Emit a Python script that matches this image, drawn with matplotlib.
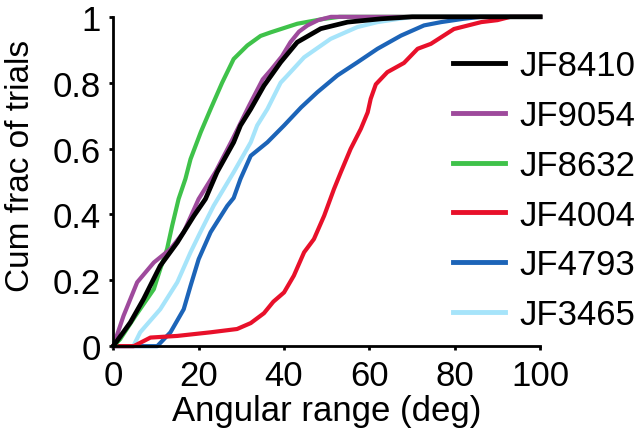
import numpy as np
import matplotlib
matplotlib.use('Agg')
import matplotlib.pyplot as plt

plt.rcParams['font.family'] = ['Liberation Sans', 'DejaVu Sans']

# Cumulative fraction of trials vs angular range
names = ['JF8410', 'JF9054', 'JF8632', 'JF4004', 'JF4793', 'JF3465']
colors = ['#000000', '#9e4a9c', '#3fc24a', '#e8102a', '#1c64b8', '#a6e4fa']

jf8410_x = [0, 4.0, 7.1, 11.0, 15.0, 18.9, 21.6, 24.3, 28.2, 29.8, 32.2, 35.3, 39.2, 43.1, 48.6, 54.9, 62.7, 70, 100]
jf8410_y = [0, 0.072, 0.143, 0.244, 0.315, 0.396, 0.447, 0.528, 0.619, 0.67, 0.72, 0.791, 0.862, 0.923, 0.964, 0.984, 0.994, 1.0, 1.0]

jf9054_x = [0, 2.4, 5.6, 9.5, 13.4, 16.5, 20.0, 24.0, 28.0, 31.8, 35.0, 37.0, 39.5, 41.5, 43.5, 45.5, 48, 51, 100]
jf9054_y = [0, 0.092, 0.194, 0.254, 0.295, 0.346, 0.447, 0.53, 0.63, 0.73, 0.81, 0.84, 0.88, 0.923, 0.955, 0.974, 0.99, 1.0, 1.0]

jf8632_x = [0, 1.6, 5.2, 9.5, 11.0, 12.6, 13.8, 15.3, 16.9, 18.1, 20.5, 22.8, 25.5, 28.2, 31.4, 34.5, 36.9, 43.1, 49.4, 53, 100]
jf8632_y = [0, 0.021, 0.092, 0.173, 0.234, 0.295, 0.366, 0.447, 0.508, 0.568, 0.65, 0.72, 0.8, 0.872, 0.913, 0.942, 0.953, 0.979, 0.994, 1.0, 1.0]

jf4004_x = [0, 4.8, 8.7, 15.0, 22.8, 29.0, 32.2, 35.3, 37.5, 40.0, 42.3, 44.7, 47.0, 49.4, 51.7, 53.3, 55.6, 58.0, 59.6, 60.3, 61.5, 64.2, 68.1, 71.3, 74.4, 79.8, 86.2, 90, 93, 100]
jf4004_y = [0, 0.0, 0.026, 0.031, 0.042, 0.052, 0.07, 0.1, 0.135, 0.163, 0.214, 0.285, 0.325, 0.396, 0.477, 0.528, 0.599, 0.66, 0.71, 0.751, 0.795, 0.832, 0.86, 0.903, 0.918, 0.963, 0.984, 0.99, 1.0, 1.0]

jf4793_x = [0, 10.3, 13.4, 16.5, 18.1, 20.0, 22.8, 26.7, 28.2, 29.8, 32.2, 36.1, 40.0, 44.0, 47.8, 52.5, 57.2, 61.9, 67.4, 72.8, 76.8, 82, 86, 100]
jf4793_y = [0, 0.0, 0.042, 0.112, 0.183, 0.264, 0.346, 0.426, 0.45, 0.508, 0.578, 0.619, 0.67, 0.725, 0.771, 0.822, 0.862, 0.903, 0.943, 0.974, 0.984, 0.994, 1.0, 1.0]

jf3465_x = [0, 4.7, 6.3, 11.0, 15.0, 18.1, 20.4, 23.5, 28.2, 32.2, 33.7, 36.1, 39.2, 40.8, 44.7, 50.9, 57.2, 61.9, 70, 100]
jf3465_y = [0, 0.0, 0.042, 0.112, 0.194, 0.285, 0.346, 0.426, 0.528, 0.619, 0.67, 0.72, 0.8, 0.822, 0.877, 0.933, 0.969, 0.984, 1.0, 1.0]

xs = [jf8410_x, jf9054_x, jf8632_x, jf4004_x, jf4793_x, jf3465_x]
ys = [jf8410_y, jf9054_y, jf8632_y, jf4004_y, jf4793_y, jf3465_y]

fig = plt.figure(figsize=(6.4, 4.35), dpi=100)
ax = fig.add_axes([0.177, 0.202, 0.667, 0.757])

handles = [None] * len(names)
# draw in reverse so black ends on top
for i in reversed(range(len(names))):
    lw = 3.4 if i == 0 else 3.0
    h, = ax.plot(xs[i], ys[i], color=colors[i], lw=lw, solid_joinstyle='round',
                 label=names[i], clip_on=False)
    handles[i] = h

ax.set_xlim(0, 100)
ax.set_ylim(0, 1)
ax.set_xticks([0, 20, 40, 60, 80, 100])
ax.set_yticks([0, 0.2, 0.4, 0.6, 0.8, 1])
ax.set_yticklabels(['0', '0.2', '0.4', '0.6', '0.8', '1'])

for s in ['top', 'right']:
    ax.spines[s].set_visible(False)
for s in ['left', 'bottom']:
    ax.spines[s].set_linewidth(2.0)
ax.tick_params(axis='both', labelsize=25, width=2.0, length=3, pad=6)

ax.set_xlabel('Angular range (deg)', fontsize=25, labelpad=2)
ax.set_ylabel('Cum frac of trials', fontsize=24)
ax.yaxis.set_label_coords(-0.18, 0.55)

leg = ax.legend(handles=handles, loc='upper left', bbox_to_anchor=(0.708, 0.885),
                bbox_transform=fig.transFigure, frameon=False, fontsize=25,
                handlelength=1.5, handletextpad=0.4, labelspacing=0.485,
                borderpad=0, borderaxespad=0)
for h in leg.legend_handles:
    h.set_linewidth(3.5)

fig.savefig('out.png', dpi=100)
